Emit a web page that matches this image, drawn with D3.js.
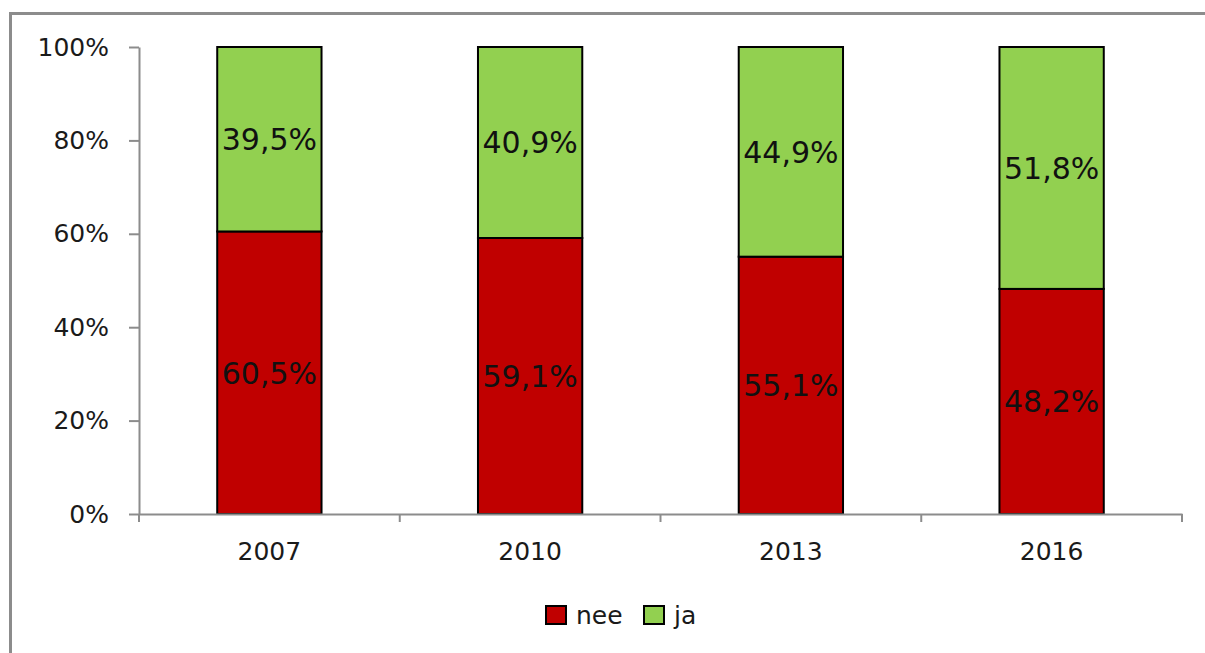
<!DOCTYPE html>
<html lang="nl">
<head>
  <meta charset="UTF-8">
  <title>nee / ja per jaar</title>
  <script src="https://d3js.org/d3.v7.min.js"></script>
  <style>
    body { margin: 0; background: #fff; }
    text { font-family: "DejaVu Sans", sans-serif; fill: #1a1a1a; }
  </style>
</head>
<body>
  <div id="chart"></div>
  <script>
    // data
    const years = ["2007", "2010", "2013", "2016"];
    const nee = [60.5, 59.1, 55.1, 48.2];
    const ja = [39.5, 40.9, 44.9, 51.8];
    const yTicks = [0, 20, 40, 60, 80, 100];

    const W = 1205, H = 653;
    const margin = { top: 47, right: 23, bottom: 139, left: 139 };
    const width = W - margin.left - margin.right;
    const height = H - margin.top - margin.bottom;

    const svg = d3.select("#chart").append("svg")
      .attr("width", W)
      .attr("height", H);

    // outer frame (only top and left visible)
    svg.append("path")
      .attr("d", "M10.5,653 L10.5,13.5 L1205,13.5")
      .attr("fill", "none")
      .attr("stroke", "#8c8c8c")
      .attr("stroke-width", 3);

    const g = svg.append("g")
      .attr("transform", "translate(" + margin.left + "," + margin.top + ")");

    const x = d3.scaleBand()
      .domain(years)
      .range([0, width])
      .paddingInner(0.6)
      .paddingOuter(0.3);

    const y = d3.scaleLinear()
      .domain([0, 100])
      .range([height, 0]);

    const rows = years.map((yr, i) => ({ year: yr, nee: nee[i], ja: ja[i] }));
    const keys = ["nee", "ja"];
    const color = d3.scaleOrdinal().domain(keys).range(["#c00000", "#92d050"]);
    const stacked = d3.stack().keys(keys)(rows);

    // bars
    g.selectAll(".series")
      .data(stacked)
      .enter().append("g")
        .attr("fill", d => color(d.key))
      .selectAll("rect")
      .data(d => d)
      .enter().append("rect")
        .attr("x", d => x(d.data.year))
        .attr("y", d => y(d[1]))
        .attr("width", x.bandwidth())
        .attr("height", d => y(d[0]) - y(d[1]))
        .attr("stroke", "#000")
        .attr("stroke-width", 2);

    // data labels
    g.selectAll(".series-lbl")
      .data(stacked)
      .enter().append("g")
      .selectAll("text")
      .data(d => d.map(p => ({ p: p, key: d.key })))
      .enter().append("text")
        .attr("x", d => x(d.p.data.year) + x.bandwidth() / 2)
        .attr("y", d => (y(d.p[0]) + y(d.p[1])) / 2)
        .attr("dy", "0.36em")
        .attr("text-anchor", "middle")
        .style("font-size", "30px")
        .style("fill", "#111")
        .text(d => d3.format(".1f")(d.p.data[d.key]).replace(".", ",") + "%");

    // y axis
    const yAxis = g.append("g")
      .call(d3.axisLeft(y).tickValues(yTicks).tickSize(10).tickSizeOuter(0).tickPadding(20)
        .tickFormat(d => d + "%"));
    yAxis.selectAll("text").style("font-size", "25px");

    // x axis: labels centred, ticks on category boundaries
    const xAxis = g.append("g")
      .attr("transform", "translate(0," + height + ")")
      .call(d3.axisBottom(x).tickSize(0).tickSizeOuter(0).tickPadding(28));
    xAxis.selectAll("text").style("font-size", "25px");
    xAxis.selectAll(".tick line").remove();
    xAxis.selectAll(".bound")
      .data(d3.range(years.length + 1))
      .enter().append("line")
        .attr("x1", i => i * x.step())
        .attr("x2", i => i * x.step())
        .attr("y1", 0)
        .attr("y2", 8)
        .attr("stroke", "#8c8c8c")
        .attr("stroke-width", 2);

    g.selectAll(".domain, .tick line")
      .attr("stroke", "#8c8c8c")
      .attr("stroke-width", 2);

    // legend
    const legend = svg.append("g").attr("transform", "translate(546,606)");
    const legendX = [0, 98];
    keys.forEach((k, i) => {
      const item = legend.append("g").attr("transform", "translate(" + legendX[i] + ",0)");
      item.append("rect")
        .attr("width", 20).attr("height", 18)
        .attr("fill", color(k))
        .attr("stroke", "#000")
        .attr("stroke-width", 2);
      item.append("text")
        .attr("x", 30).attr("y", 9).attr("dy", "0.36em")
        .style("font-size", "25px")
        .text(k);
    });
  </script>
</body>
</html>
